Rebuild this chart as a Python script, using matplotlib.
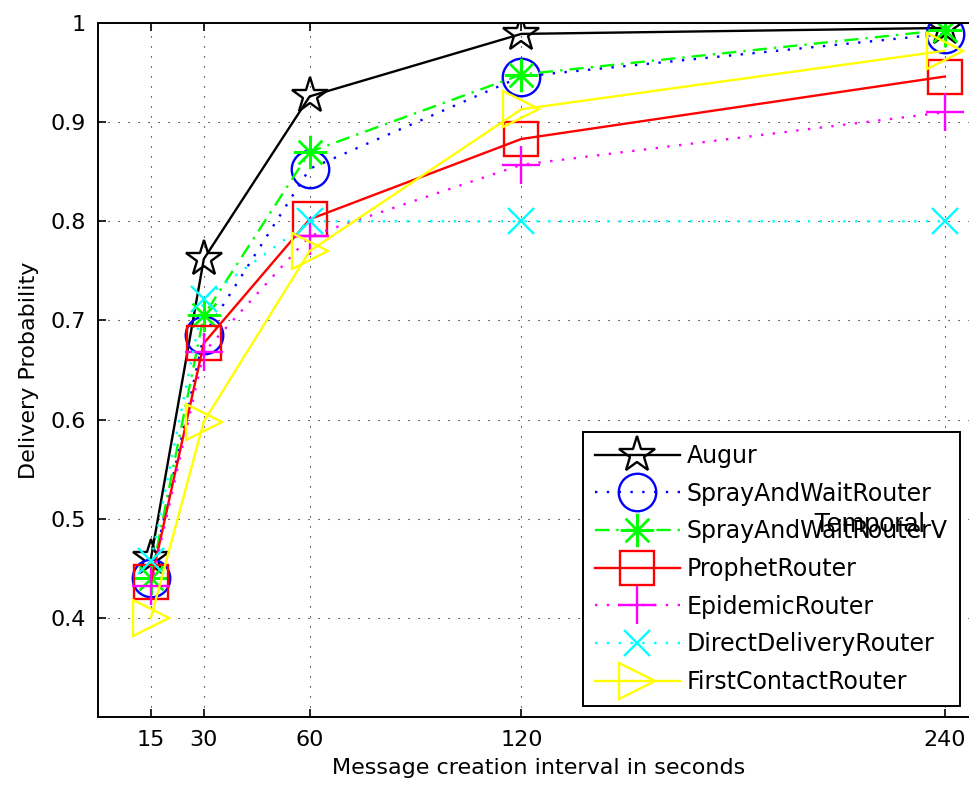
import matplotlib.pyplot as plt

# intervalos de criação de mensagens (s)
intervals = [15, 30, 60, 120, 240]

augur = [0.46, 0.762, 0.926, 0.989, 0.995]
spray_wait = [0.44, 0.685, 0.853, 0.946, 0.989]
spray_wait_v = [0.44, 0.705, 0.870, 0.948, 0.993]
prophet = [0.436, 0.677, 0.802, 0.883, 0.946]
epidemic = [0.432, 0.668, 0.785, 0.857, 0.910]
direct = [0.457, 0.722, 0.800, 0.800, 0.800]
first_contact = [0.400, 0.598, 0.770, 0.913, 0.972]

labels = ['Augur', 'SprayAndWaitRouter', 'SprayAndWaitRouterV', 'ProphetRouter',
          'EpidemicRouter', 'DirectDeliveryRouter', 'FirstContactRouter']

fig = plt.figure(figsize=(9.69, 7.89), dpi=100)
ax = fig.add_axes([98/969, 1 - 717/789, 882/969, 694/789])

dot = (0, (1, 4))
series = [
    (augur, 'k', '-', '*', 27),
    (spray_wait, 'b', dot, 'o', 27),
    (spray_wait_v, '#00ff00', (0, (6, 3, 1, 3)), (8, 2, 0), 24),
    (prophet, 'r', '-', 's', 25),
    (epidemic, '#ff00ff', dot, '+', 28),
    (direct, '#00ffff', dot, 'x', 19),
    (first_contact, '#ffff00', '-', '>', 26),
]

for (vals, c, ls, mk, ms), lab in zip(series, labels):
    ax.plot(intervals, vals, color=c, linestyle=ls, linewidth=1.7, marker=mk,
            markersize=ms, markerfacecolor='none', markeredgecolor=c,
            markeredgewidth=1.7, label=lab)

ax.set_xlim(0, 250)
ax.set_ylim(0.3, 1.0)
ax.set_xticks(intervals)
ax.set_yticks([0.4, 0.5, 0.6, 0.7, 0.8, 0.9, 1.0])
ax.set_yticklabels(['0.4', '0.5', '0.6', '0.7', '0.8', '0.9', '1'])
ax.grid(True, color='k', linestyle=(0, (1, 8)), linewidth=0.8)
ax.tick_params(direction='in', length=6, width=1.2, labelsize=16, top=True, right=True,
               pad=9)
for sp in ax.spines.values():
    sp.set_linewidth(1.4)

ax.set_xlabel('Message creation interval in seconds', fontsize=16, labelpad=6)
ax.set_ylabel('Delivery Probability', fontsize=16, labelpad=8)

leg = fig.legend(loc='upper left', bbox_to_anchor=(583/969, 1 - 432/789),
                 bbox_transform=fig.transFigure, fontsize=17, numpoints=1,
                 handlelength=3.6, handletextpad=0.3, labelspacing=0.58,
                 borderpad=0.5, borderaxespad=0, fancybox=False, framealpha=1)
leg.get_frame().set_edgecolor('k')
leg.get_frame().set_linewidth(1.4)

fig.text(813/969, 1 - 532/789, 'Temporal', fontsize=19.5, family='Liberation Sans',
         va='baseline', ha='left', zorder=10)

fig.savefig('out.png', dpi=100)
